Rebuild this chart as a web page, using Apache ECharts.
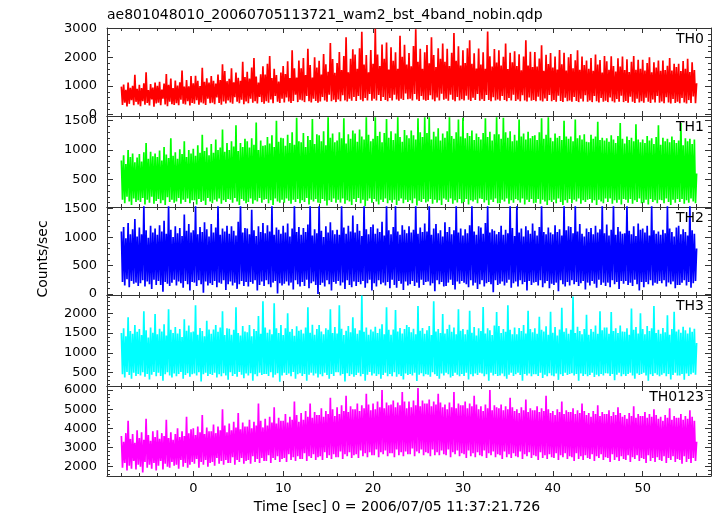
<!DOCTYPE html>
<html><head><meta charset="utf-8">
<script src="https://cdn.jsdelivr.net/npm/echarts@6/dist/echarts.min.js"></script>
<style>html,body{margin:0;padding:0;background:#fff}#c{width:717px;height:516px}</style>
</head><body><div id="c"></div>
<script>
const titleText = 'ae801048010_20060705113721_wam2_bst_4band_nobin.qdp';
const yTitle = 'Counts/sec';
const xTitle = 'Time [sec] 0 = 2006/07/05 11:37:21.726';
const bandNames = ['TH0', 'TH1', 'TH2', 'TH3', 'TH0123'];
const bandColors = ['#ff0000', '#00ff00', '#0000ff', '#00ffff', '#ff00ff'];
// time bins: start time and bin width (sec)
const t0 = -8, dt = 0.125;

const th0 = [
980,340,1050,420,870,290,1120,380,940,510,1010,330,1390,450,900,360,
1040,300,930,470,1100,350,1480,410,860,320,1070,530,950,280,1120,390,
1010,420,1150,330,880,560,1090,360,1420,300,1040,450,1260,370,930,340,
1190,400,1020,330,1130,520,1540,380,980,360,1210,470,990,320,1350,410,
1100,380,1360,510,1180,350,1000,430,1640,390,1150,340,1270,560,1120,400,
1350,420,1180,370,1090,600,1400,410,1210,350,1760,460,1520,390,1170,500,
1250,430,1620,380,1130,610,1470,450,1290,400,1180,520,1850,370,1310,460,
1500,400,1260,560,1650,420,1980,470,1330,390,1120,620,1410,440,1690,380,
1400,470,1780,420,2050,530,1280,400,1600,650,1380,450,1160,410,1470,560,
1700,430,1420,600,1860,460,1280,410,2250,480,1620,700,1300,440,1890,520,
1620,500,1980,440,1380,650,2300,470,1730,430,1300,560,2000,480,1650,420,
1880,460,1400,620,2120,500,1760,450,1500,700,2500,470,1940,520,1460,440,
1800,530,2190,470,1560,680,2050,500,2700,460,1480,560,1950,490,2280,620,
2100,480,1600,650,2320,520,2890,470,1750,580,2080,500,1480,720,2260,490,
1780,560,3000,500,2100,690,1700,480,2450,620,1950,510,2520,470,1580,580,
2350,500,1880,700,2180,530,1600,490,2750,560,2020,510,2440,740,1750,540,
2150,560,1690,500,2400,720,2980,530,1850,480,2300,650,1600,520,2180,490,
2430,510,1790,680,2700,530,2080,470,1660,600,2320,500,1950,730,2480,520,
1850,560,2300,490,1700,700,2160,520,2850,470,1880,620,2390,500,1720,540,
2250,500,1800,660,2320,520,2600,480,1780,590,2140,510,1610,720,2310,490,
1750,540,2180,480,1600,690,2900,510,2040,470,1680,610,2290,500,1820,530,
2250,490,1720,650,2020,510,2480,470,1590,580,2160,500,1830,700,2210,480,
1700,530,2110,470,1550,680,2030,500,2600,460,1720,600,2200,490,1660,510,
2190,470,1680,630,1960,500,2420,460,1530,570,2090,480,1770,690,2150,470,
1650,510,2030,450,1580,660,2260,480,1760,440,2160,590,1540,470,2000,500,
2120,450,1620,620,1900,480,2250,440,1570,560,2030,460,1730,680,1890,450,
1600,500,1980,440,1530,650,2100,470,1750,430,1910,580,1470,450,2050,490,
1860,440,1570,600,2040,470,1700,430,1510,550,1970,450,1680,660,2030,440,
1560,480,1930,420,1490,630,1850,450,2050,410,1570,560,1920,430,1600,470,
1920,420,1540,590,1800,450,2000,410,1480,530,1830,430,1650,650,1890,420,
1530,460,1890,400,1560,610,1710,430,1980,390,1540,550,1780,410,1660,450,
1780,400,1520,580,1870,430,1600,390,1950,510,1490,410,1830,640,1560,400,
1100];

const th1 = [
820,150,910,90,760,200,1000,120,880,60,940,170,790,110,870,140,
930,110,800,180,960,70,1120,150,850,100,970,200,890,80,940,130,
880,160,990,90,820,140,1050,60,920,190,860,110,1200,150,900,100,
960,120,850,180,1010,80,930,150,1150,110,880,170,1000,90,940,140,
1020,140,900,70,1080,160,950,110,1260,130,980,60,1040,180,910,120,
1100,90,950,150,1180,120,1000,170,1040,80,1350,140,970,110,1120,160,
1000,150,1150,100,1060,180,1420,120,980,60,1120,160,1050,130,1190,90,
1150,110,1040,170,1200,80,1090,140,1470,120,1000,180,1160,100,1070,150,
1080,160,1220,90,1110,140,1250,60,1050,170,1500,120,1140,100,1210,150,
1200,100,1070,170,1260,130,1120,80,1300,150,1090,110,1550,160,1150,90,
1130,140,1290,110,1050,180,1240,70,1170,150,1530,120,1100,160,1270,100,
1250,90,1150,160,1320,130,1080,50,1560,140,1210,110,1280,170,1130,100,
1160,150,1300,100,1200,170,1540,80,1110,140,1270,120,1190,60,1330,160,
1280,110,1140,180,1350,90,1230,150,1180,40,1560,130,1260,170,1150,100,
1190,160,1560,120,1240,70,1310,150,1130,110,1290,170,1530,90,1210,140,
1320,100,1170,150,1280,60,1560,130,1220,170,1140,90,1340,150,1250,110,
1200,140,1330,90,1250,170,1180,50,1540,130,1300,110,1220,160,1560,100,
1290,120,1560,160,1180,80,1310,150,1230,100,1370,140,1160,60,1280,170,
1210,150,1320,110,1560,170,1240,80,1190,140,1300,100,1520,160,1230,90,
1550,110,1200,160,1290,70,1240,140,1330,120,1170,150,1280,90,1220,170,
1180,160,1290,100,1540,140,1220,60,1310,150,1160,110,1270,170,1560,90,
1270,90,1190,150,1550,120,1300,170,1210,80,1320,140,1150,100,1260,160,
1160,140,1520,100,1230,170,1280,70,1180,150,1310,110,1200,160,1240,90,
1250,100,1170,160,1300,80,1540,150,1190,120,1260,60,1560,140,1210,110,
1150,150,1280,90,1210,170,1240,110,1170,60,1500,140,1230,100,1190,160,
1230,90,1150,150,1520,120,1200,170,1250,80,1180,140,1270,110,1140,150,
1130,160,1260,100,1190,140,1230,60,1480,150,1170,120,1210,90,1160,170,
1200,110,1140,170,1250,80,1180,140,1120,100,1240,150,1460,70,1190,160,
1110,150,1230,100,1170,160,1210,80,1150,140,1440,110,1180,170,1130,90,
1180,100,1120,150,1240,70,1160,160,1200,110,1100,140,1220,90,1420,150,
1090,140,1210,90,1150,170,1190,110,1130,60,1230,150,1170,100,1120,160,
1160,110,1460,160,1080,80,1200,140,1150,100,1190,170,1100,120,1180,90,
600];

const th2 = [
1100,210,1180,150,980,260,1250,120,1050,230,1140,180,1320,200,1010,140,
1170,190,1050,240,1560,130,1120,220,990,170,1200,90,1080,250,1150,160,
1040,230,1210,160,1100,40,1290,210,1060,180,1560,140,1130,200,1000,250,
1190,150,1070,220,1160,190,1020,110,1400,230,1110,170,1230,60,1080,210,
1120,200,1560,140,1050,240,1180,170,1090,20,1260,220,1140,150,1010,190,
1230,160,1080,230,1170,120,1560,200,1040,180,1150,240,1100,70,1200,170,
1060,220,1190,150,1110,200,1030,90,1270,170,1560,230,1080,140,1160,210,
1150,130,1050,210,1480,180,1120,240,1020,60,1190,160,1090,220,1250,140,
1070,240,1210,170,1100,120,1560,200,1040,230,1170,10,1130,190,1060,150,
1200,180,1080,220,1240,150,1010,200,1150,80,1560,240,1090,170,1180,130,
1040,210,1160,140,1090,250,1220,100,1560,190,1030,220,1140,160,1070,0,
1560,160,1110,200,1000,130,1190,240,1080,170,1260,60,1120,210,1050,180,
1130,230,1040,150,1560,200,1170,90,1060,240,1200,160,1100,120,1380,220,
1080,140,1230,210,1110,170,1020,230,1560,110,1140,190,1050,250,1180,60,
1220,190,1060,130,1150,240,1090,170,1270,200,1030,150,1560,210,1120,100,
1050,250,1180,160,1560,110,1100,230,1040,180,1210,70,1130,220,1070,150,
1190,170,1080,230,1130,140,1560,200,1060,110,1170,250,1090,160,1240,210,
1100,220,1560,150,1040,190,1150,50,1230,240,1070,170,1120,210,1010,130,
1260,140,1090,200,1180,250,1050,160,1120,80,1560,220,1080,180,1150,230,
1030,200,1140,170,1070,120,1210,240,1560,150,1100,200,1040,90,1190,170,
1170,240,1060,130,1250,190,1560,210,1080,170,1140,30,1110,240,1050,160,
1090,180,1200,220,1040,150,1130,200,1070,250,1560,110,1160,190,1020,220,
1560,130,1080,240,1150,170,1010,210,1190,60,1120,230,1060,160,1240,200,
1110,210,1030,150,1180,240,1560,120,1090,190,1050,230,1170,100,1080,180,
1050,160,1210,200,1090,50,1140,240,1030,170,1560,130,1120,210,1190,150,
1180,240,1070,170,1560,210,1100,140,1230,190,1060,230,1010,80,1150,200,
1090,150,1160,230,1050,180,1200,110,1080,250,1140,160,1560,200,1070,140,
1220,200,1030,120,1130,240,1560,170,1040,210,1180,90,1100,230,1060,180,
1070,230,1560,160,1110,200,1050,140,1190,250,1020,170,1240,60,1130,210,
1150,120,1080,210,1200,170,1030,240,1560,150,1120,200,1060,180,1100,230,
1040,190,1130,240,1070,130,1560,200,1150,170,1090,220,1010,100,1170,160,
1200,160,1050,200,1140,240,1090,150,1030,210,1560,110,1120,190,1060,230,
800];

const th3 = [
1500,460,1620,380,1420,520,1900,440,1550,350,1480,500,1700,420,1530,470,
1600,430,1450,510,2050,400,1570,470,1390,330,1640,450,1510,520,1980,410,
1470,500,1610,420,1540,300,1720,460,1440,510,2100,430,1580,380,1500,480,
1650,410,1490,470,1600,520,1400,350,1850,440,1560,490,1690,400,1520,460,
1540,480,2200,430,1460,510,1630,280,1550,460,1420,500,1810,420,1590,470,
1480,440,1590,500,1700,380,1530,460,1640,410,2050,490,1450,430,1620,320,
1610,510,1460,420,1580,470,2150,400,1500,520,1440,450,1680,360,1540,480,
1520,430,1700,490,1420,300,1600,460,1550,410,1930,500,1480,440,2300,470,
1640,470,1510,420,1590,510,1470,380,2250,450,1620,490,1500,270,1700,430,
1450,500,1620,440,2000,480,1530,410,1600,520,1430,350,1670,460,1560,490,
1580,420,1490,470,1640,300,2150,450,1510,500,1710,430,1460,480,1600,380,
1700,460,1540,410,1470,500,1620,440,1580,350,2100,470,1500,420,1650,510,
1490,510,2200,430,1610,470,1450,280,1560,490,1680,420,1520,460,1900,400,
1620,440,1480,500,1570,410,2450,470,1530,300,1640,450,1460,520,1590,430,
1540,480,1660,420,1500,460,1610,350,1720,440,1470,500,2150,410,1580,470,
1460,410,1590,510,2080,400,1540,460,1630,420,1490,330,1600,480,1700,440,
1650,470,1520,430,1610,500,1470,290,2180,450,1560,490,1630,410,1480,460,
1570,450,1680,400,1450,510,2300,460,1540,420,1600,350,1500,480,1980,430,
1490,500,1600,460,1710,380,1530,420,1640,500,1470,450,2100,410,1560,470,
1600,420,1470,500,1580,330,2060,460,1510,410,1650,480,1440,440,1620,500,
1550,480,2160,410,1490,460,1620,300,1570,500,1450,430,1690,470,2030,420,
1680,430,1500,480,1600,410,1530,350,2200,450,1580,500,1470,420,1640,460,
1470,500,1630,440,1550,300,1700,470,1490,430,2060,480,1600,410,1520,460,
1620,460,1480,420,1910,500,1580,370,1540,450,1670,410,1460,490,2040,430,
1510,410,1650,480,1440,320,1590,460,2140,420,1530,500,1620,440,1480,470,
1580,490,2420,430,1500,470,1660,300,1550,480,1470,420,1600,460,1960,410,
1460,440,1600,500,1530,390,1690,450,1480,410,2050,470,1570,430,1640,490,
1640,480,1480,420,2030,470,1550,310,1620,450,1500,500,1690,410,1540,460,
1530,420,1620,470,1460,500,2120,430,1580,350,1650,480,1490,440,2000,470,
1600,500,1470,430,1680,300,1550,460,1620,420,2180,490,1500,450,1580,410,
1480,450,1630,490,1520,410,1950,470,1460,330,1600,440,2040,500,1540,430,
1590,430,1510,470,1660,320,1570,480,1490,420,1640,460,1530,500,1610,450,
1250];

const th0123 = [
3600,1950,3300,2200,3750,1800,4400,2050,3450,1900,3700,2300,3250,1850,3900,2100,
3500,2000,3800,1700,3400,2250,4500,1950,3650,2100,3350,1900,3850,2200,3550,1800,
3900,2050,3450,2300,3750,1850,3600,2150,4450,2000,3500,1950,3800,2250,3400,2050,
3700,2100,4000,1900,3550,2350,3850,2000,3600,2200,4600,1950,3750,2100,3950,2250,
4000,2150,3650,2400,4100,1950,3800,2250,4700,2100,3700,2350,4050,2000,3850,2200,
3850,2250,4200,2050,3750,2450,4100,2150,3900,2300,5000,2100,4150,2350,3800,2200,
4250,2200,3900,2500,4350,2100,4050,2350,4800,2250,3950,2450,4300,2150,4100,2300,
4100,2350,4450,2150,4000,2550,4350,2250,4150,2400,5300,2200,4400,2450,4050,2300,
4500,2300,4150,2600,4600,2200,4300,2450,5100,2350,4250,2550,4550,2250,4400,2400,
4400,2450,4750,2250,4300,2650,4600,2350,4450,2500,5400,2300,4700,2550,4350,2400,
4800,2400,4450,2700,4900,2300,4600,2550,5300,2450,4550,2650,4850,2350,4700,2500,
4700,2550,5050,2350,4600,2750,4900,2450,4750,2600,5600,2400,5000,2650,4650,2500,
5100,2500,4750,2800,5200,2400,4900,2650,5700,2550,4850,2750,5150,2450,5000,2600,
5000,2650,5300,2450,4900,2850,5200,2550,5050,2700,5800,2500,5250,2750,4950,2600,
5300,2600,5000,2900,5400,2500,5100,2750,6000,2650,5050,2850,5350,2550,5200,2700,
5250,2700,5450,2500,5100,2900,5350,2600,5200,2750,5900,2550,5400,2800,5050,2650,
5400,2650,5100,2950,5450,2550,5200,2800,6100,2700,5150,2900,5450,2600,5300,2750,
5300,2700,5500,2550,5150,2900,5400,2600,5250,2750,5800,2600,5350,2850,5100,2650,
5250,2600,5000,2900,5350,2500,5100,2750,5900,2650,5050,2850,5300,2550,5200,2700,
5200,2650,5400,2450,5050,2850,5300,2550,5150,2700,5700,2500,5250,2750,5000,2600,
5150,2550,4900,2850,5250,2450,5050,2700,6000,2600,4950,2800,5200,2500,5100,2650,
5050,2600,5250,2400,4950,2800,5150,2500,5000,2650,5600,2450,5100,2700,4900,2550,
5000,2500,4800,2800,5100,2400,4950,2650,5500,2550,4850,2750,5050,2450,4950,2600,
4950,2550,5150,2350,4850,2750,5050,2450,4900,2600,5700,2400,5000,2650,4800,2500,
4900,2450,4700,2700,5000,2350,4850,2600,5400,2500,4750,2700,4950,2400,4850,2550,
4850,2500,5050,2300,4750,2700,4950,2400,4800,2550,5300,2350,4900,2600,4700,2450,
4800,2400,4600,2650,4900,2300,4750,2550,5200,2450,4650,2650,4850,2350,4750,2500,
4750,2450,4950,2250,4650,2650,4850,2350,4700,2500,5100,2300,4800,2550,4600,2400,
4700,2350,4500,2600,4800,2250,4650,2500,5150,2400,4550,2600,4750,2300,4650,2450,
4650,2400,4850,2200,4550,2600,4750,2300,4600,2450,5000,2250,4700,2500,4500,2350,
4600,2300,4400,2550,4700,2200,4550,2450,5050,2350,4450,2550,4650,2250,4550,2400,
4550,2350,4750,2150,4450,2550,4650,2250,4500,2400,4950,2200,4600,2450,4400,2300,
3300];

const xMajorTicks = [0, 10, 20, 30, 40, 50];
const xMinorTicks = [-8,-6,-4,-2,0,2,4,6,8,10,12,14,16,18,20,22,24,26,28,30,32,34,36,38,40,42,44,46,48,50,52,54,56];
const yMajorTicks = [
  [0, 1000, 2000, 3000],
  [500, 1000, 1500],
  [0, 500, 1000, 1500],
  [500, 1000, 1500, 2000],
  [2000, 3000, 4000, 5000, 6000]
];
const yMinorTicks = [
  [0,200,400,600,800,1000,1200,1400,1600,1800,2000,2200,2400,2600,2800,3000],
  [100,200,300,400,500,600,700,800,900,1000,1100,1200,1300,1400,1500],
  [0,100,200,300,400,500,600,700,800,900,1000,1100,1200,1300,1400,1500],
  [200,300,400,500,600,700,800,900,1000,1100,1200,1300,1400,1500,1600,1700,1800,1900,2000,2100,2200,2300,2400],
  [1600,1800,2000,2200,2400,2600,2800,3000,3200,3400,3600,3800,4000,4200,4400,4600,4800,5000,5200,5400,5600,5800,6000,6200]
];
const seriesValues = [th0, th1, th2, th3, th0123];

// ---- layout ----
const FONT = 'DejaVu Sans';
const FRAME = '#333333';
const panelTop = [28, 116, 207, 295, 386];
const panelH = [88, 91, 88, 91, 90];
const yRange = [[-45, 3025], [25, 1580], [-18, 1530], [165, 2460], [1515, 6210]];
const xRange = [-9.6, 57.6];

const grids = [], xAxes = [], yAxes = [], series = [], graphics = [];
for (let g = 0; g < 5; g++) {
  grids.push({ left: 107, width: 604, top: panelTop[g], height: panelH[g], containLabel: false, outerBoundsMode: 'none' });
  const xb = { type: 'value', gridIndex: g, min: xRange[0], max: xRange[1], splitLine: { show: false }, silent: true };
  const lineOn = { show: true, onZero: false, lineStyle: { color: FRAME, width: 1 } };
  const lineOff = { show: false, onZero: false };
  const lab = (show, vals) => ({ show: show, customValues: vals, color: '#000', fontFamily: FONT, fontSize: 13,
    formatter: v => String(v) });
  for (const pos of ['bottom', 'top']) {
    xAxes.push(Object.assign({}, xb, { position: pos, axisLine: lineOn,
      axisTick: { show: true, inside: true, length: 5, customValues: xMajorTicks, lineStyle: { color: FRAME, width: 1 } },
      axisLabel: Object.assign(lab(g === 4 && pos === 'bottom', xMajorTicks), { margin: 6 }) }));
    xAxes.push(Object.assign({}, xb, { position: pos, axisLine: lineOff,
      axisTick: { show: true, inside: true, length: 3, customValues: xMinorTicks, lineStyle: { color: FRAME, width: 1 } },
      axisLabel: { show: false } }));
  }
  const yb = { type: 'value', gridIndex: g, min: yRange[g][0], max: yRange[g][1], splitLine: { show: false }, silent: true };
  for (const pos of ['left', 'right']) {
    yAxes.push(Object.assign({}, yb, { position: pos, axisLine: lineOn,
      axisTick: { show: true, inside: true, length: 6, customValues: yMajorTicks[g], lineStyle: { color: FRAME, width: 1 } },
      axisLabel: Object.assign(lab(pos === 'left', yMajorTicks[g]), { margin: 10 }) }));
    yAxes.push(Object.assign({}, yb, { position: pos, axisLine: lineOff,
      axisTick: { show: true, inside: true, length: 3, customValues: yMinorTicks[g], lineStyle: { color: FRAME, width: 1 } },
      axisLabel: { show: false } }));
  }
  const vals = seriesValues[g];
  series.push({
    type: 'line', name: bandNames[g], xAxisIndex: 4 * g, yAxisIndex: 4 * g,
    data: vals.map((v, i) => [t0 + i * dt, v]),
    showSymbol: false, symbol: 'none', clip: true, animation: false,
    lineStyle: { width: 1.7, color: bandColors[g], join: 'bevel' }, itemStyle: { color: bandColors[g] }
  });
  graphics.push({ type: 'text', x: 704, y: panelTop[g] + 11, silent: true, z: 100,
    style: { text: bandNames[g], align: 'right', verticalAlign: 'middle', fill: '#000', font: '14px "' + FONT + '"' } });
}
graphics.push({ type: 'text', x: 107, y: 15, silent: true,
  style: { text: titleText, align: 'left', verticalAlign: 'middle', fill: '#000', font: '14px "' + FONT + '"' } });
graphics.push({ type: 'text', x: 397, y: 507, silent: true,
  style: { text: xTitle, align: 'center', verticalAlign: 'middle', fill: '#000', font: '14px "' + FONT + '"' } });
graphics.push({ type: 'text', x: 43, y: 259, rotation: Math.PI / 2, silent: true,
  style: { text: yTitle, align: 'center', verticalAlign: 'middle', fill: '#000', font: '14px "' + FONT + '"' } });

const chart = echarts.init(document.getElementById('c'), null, { renderer: 'canvas' });
chart.setOption({
  animation: false,
  backgroundColor: '#ffffff',
  grid: grids, xAxis: xAxes, yAxis: yAxes, series: series, graphic: graphics,
  tooltip: { show: false }, legend: { show: false }
});
</script></body></html>
